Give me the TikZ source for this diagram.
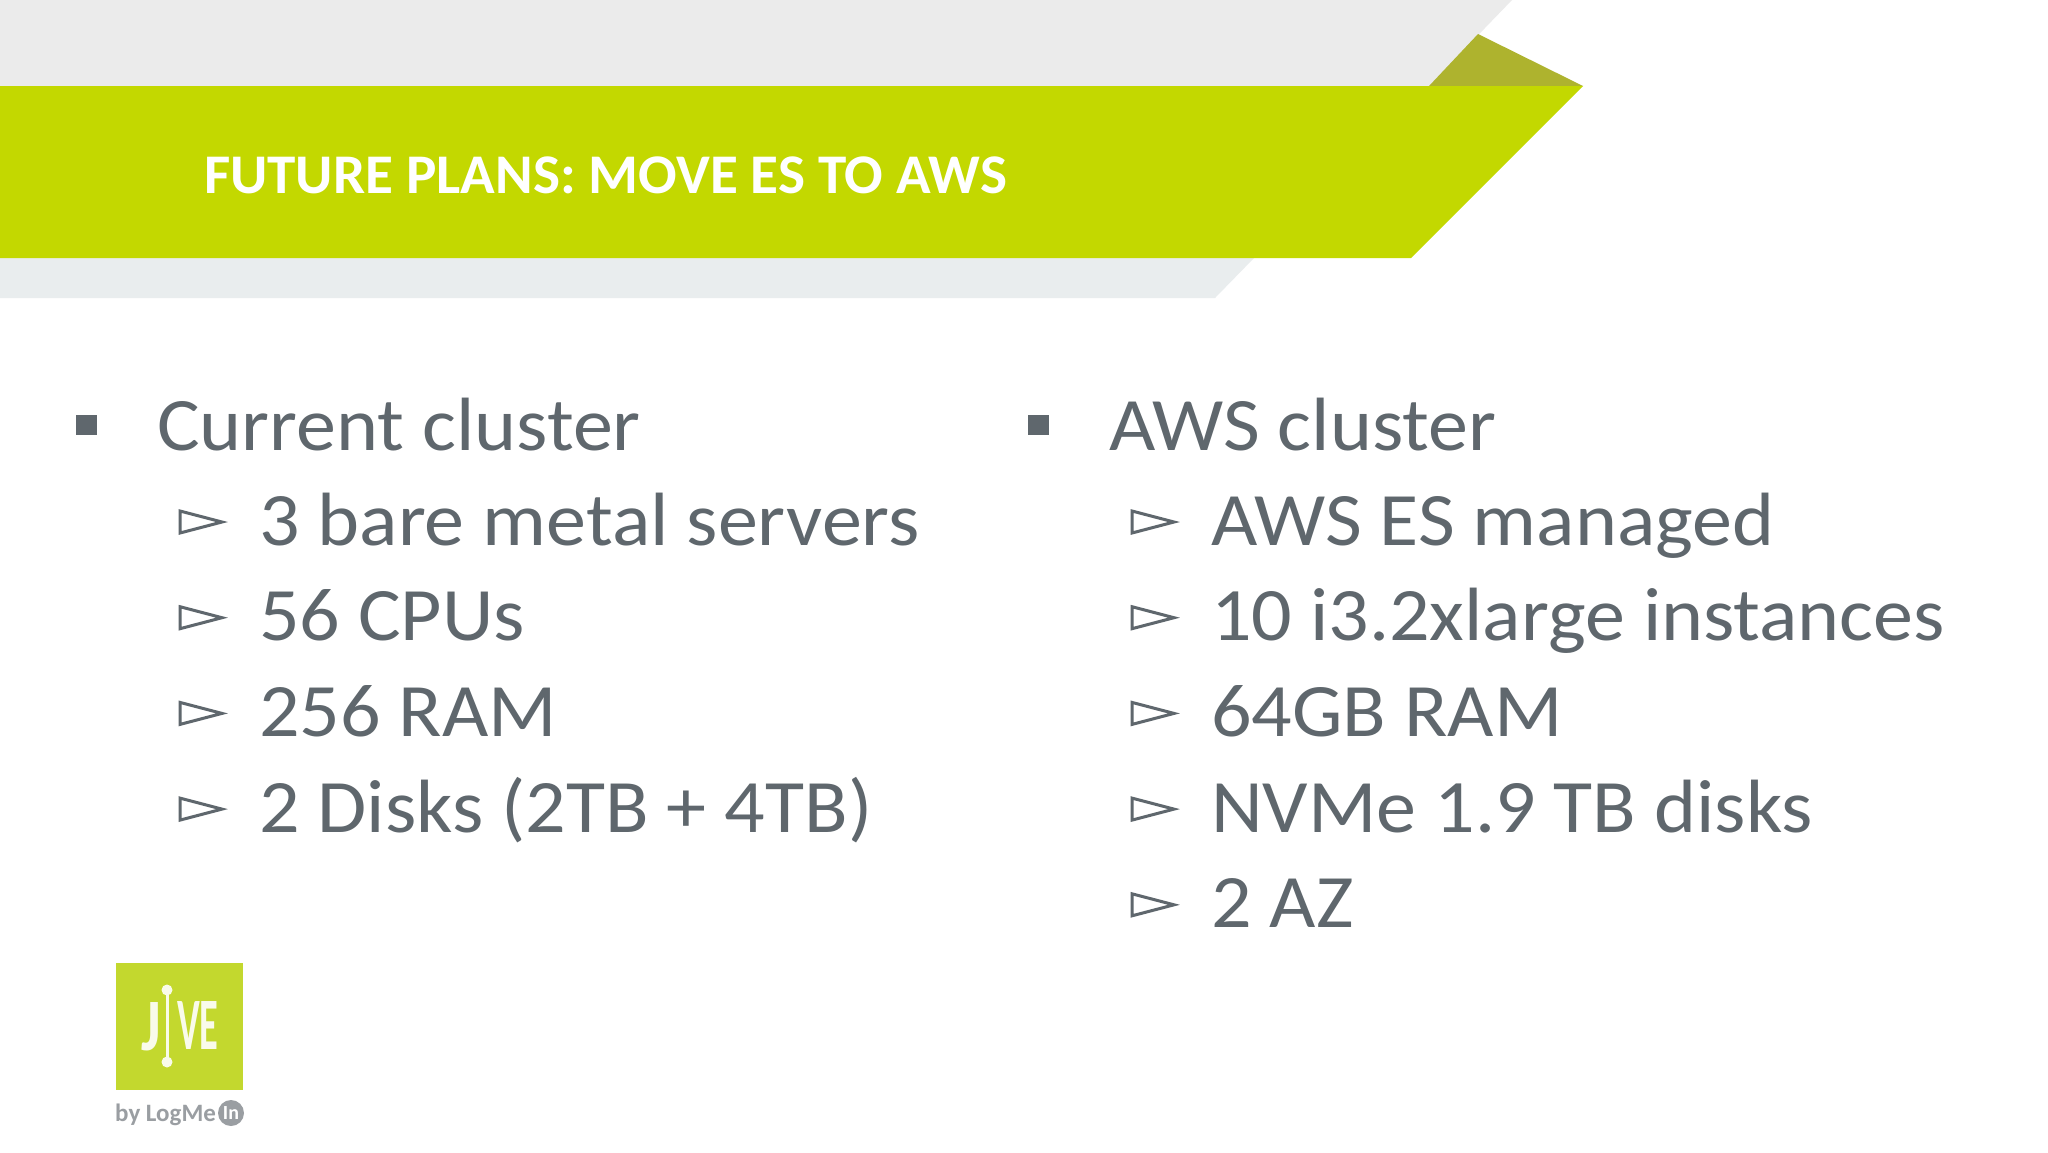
\documentclass[tikz,border=0pt]{standalone}
\usepackage{fontspec}
\setmainfont{Carlito}
\definecolor{bandgreen}{HTML}{C3D800}
\definecolor{foldgreen}{HTML}{AEB32E}
\definecolor{topgrey}{HTML}{EBEBEB}
\definecolor{lowgrey}{HTML}{E9EDEE}
\definecolor{bodygrey}{HTML}{5F676D}
\definecolor{logogreen}{HTML}{C3D82E}
\definecolor{logogrey}{HTML}{9A9EA2}
\tikzset{
    bodytext/.style={anchor=base west, inner sep=0, outer sep=0, text=bodygrey, xscale=1.06, font=\fontsize{75.5}{75.5}\selectfont},
    squaremark/.style={fill=bodygrey},
    arrowmark/.style={draw=bodygrey, line width=3pt, miter limit=10},
}
\begin{document}
\begin{tikzpicture}[x=1pt, y=-1pt]
\useasboundingbox (0, 0) rectangle (2048, 1152);
\fill[white] (0, 0) rectangle (2048, 1152);

\fill[topgrey] (0, 0) -- (1512, 0) -- (1429, 86) -- (0, 86) -- cycle;
\fill[lowgrey] (0, 258) -- (1254, 258) -- (1215, 298) -- (0, 298) -- cycle;
\fill[foldgreen] (1478, 34) -- (1583, 86) -- (1429, 86) -- cycle;
\fill[bandgreen] (0, 86) -- (1583, 86) -- (1411, 258) -- (0, 258) -- cycle;
\node[anchor=base west, inner sep=0, text=white, xscale=1.02, font=\fontsize{56}{56}\selectfont\bfseries] (title) at (204, 193) {FUTURE PLANS: MOVE ES TO AWS};

\foreach\x/\name/\head in {0/cur/Current cluster, 952/aws/AWS cluster}{
    \fill[squaremark] (76 + \x, 415) rectangle (97 + \x, 435);
    \node[bodytext] (\name head) at (157 + \x, 450) {\head};
}
\foreach\x[count=\xi from 0] in {3 bare metal servers, 56 CPUs, 256 RAM, 2 Disks (2TB + 4TB)}{
    \draw[arrowmark] (180, 511 + \xi * 95.7) -- (222, 522 + \xi * 95.7) -- (180, 533 + \xi * 95.7) -- cycle;
    \node[bodytext] (cur\xi) at (259, 545 + \xi * 95.7) {\x};
}
\foreach\x[count=\xi from 0] in {AWS ES managed, 10 i3.2xlarge instances, 64GB RAM, NVMe 1.9 TB disks, 2 AZ}{
    \draw[arrowmark] (1132, 511 + \xi * 95.7) -- (1174, 522 + \xi * 95.7) -- (1132, 533 + \xi * 95.7) -- cycle;
    \node[bodytext] (aws\xi) at (1211, 545 + \xi * 95.7) {\x};
}

\fill[logogreen] (116, 963) rectangle (243, 1090);
\draw[white!90!logogreen, line width=3pt] (167, 990) -- (167, 1062);
\fill[white!90!logogreen] (167, 990) circle (5.5) (167, 1062) circle (5.5);
\node[anchor=base east, inner sep=0, text=white!90!logogreen, font=\fontsize{74}{74}\selectfont\bfseries, xscale=0.8] (logoj) at (161, 1050) {J};
\node[anchor=base west, inner sep=0, text=white!90!logogreen, font=\fontsize{74}{74}\selectfont\bfseries, xscale=0.52] (logove) at (177, 1049) {VE};
\node[anchor=base west, inner sep=0, text=logogrey, font=\fontsize{25}{25}\selectfont\bfseries] (logoby) at (115, 1121) {by LogMe};
\fill[logogrey] (231, 1113) circle (13);
\node[inner sep=0, text=white, font=\fontsize{20}{20}\selectfont\bfseries] (logoin) at (231, 1113) {In};

\end{tikzpicture}
\end{document}
